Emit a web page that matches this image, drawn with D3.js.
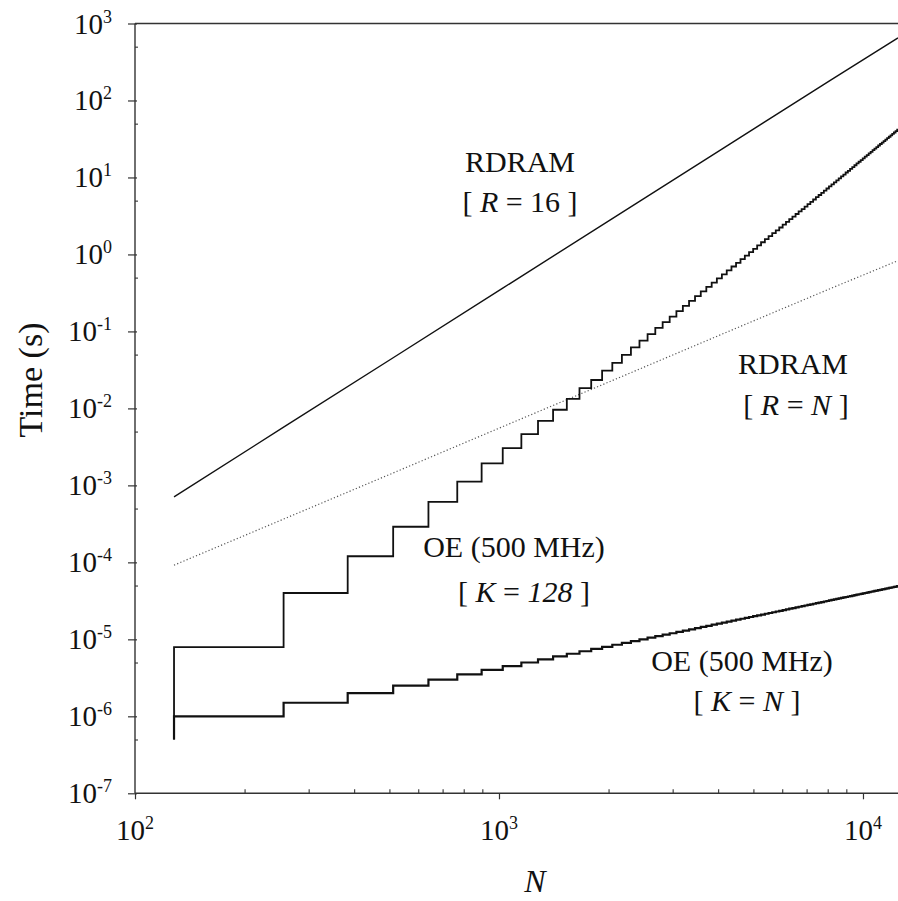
<!DOCTYPE html>
<html>
<head>
<meta charset="utf-8">
<script src="https://cdn.jsdelivr.net/npm/d3@7"></script>
<style>
  body { margin: 0; background: #fff; }
  .vis-timing text { font-family: "Liberation Serif", "Times New Roman", serif; fill: #111; }
</style>
</head>
<body>
<div class="vis-timing"></div>
<script>
// RDRAM, R = 16 (straight line, read at a few N)
const rdram16N = [128, 256, 512, 1024, 2048, 4096, 8192, 12480];
const rdram16Time = [7.1e-4, 5.7e-3, 4.55e-2, 0.365, 2.92, 23.3, 187, 650];

// RDRAM, R = N (dotted)
const rdramNN = [128, 256, 512, 1024, 2048, 4096, 8192, 12480];
const rdramNTime = [9.2e-5, 3.65e-4, 1.45e-3, 5.8e-3, 2.3e-2, 9.2e-2, 0.365, 0.83];

// staircases step every 128 in N
const stepWidth = 128;

// OE (500 MHz), K = 128 : value at N = 128, then one level per step (s)
const oeK128Start = 5e-7;
const oeK128Levels = [
    7.9e-6, 4.0e-5, 1.2e-4, 2.9e-4, 6.1e-4, 1.12e-3, 1.93e-3, 3.04e-3, 4.62e-3, 6.9e-3,
    9.6e-3, 1.33e-2, 1.83e-2, 2.34e-2, 3.1e-2, 3.9e-2, 4.95e-2, 6.2e-2, 0.076, 0.0922,
    0.111, 0.132, 0.156, 0.184, 0.215, 0.249, 0.288, 0.331, 0.378, 0.431,
    0.489, 0.552, 0.621, 0.697, 0.779, 0.869, 0.966, 1.07, 1.18, 1.31,
    1.44, 1.58, 1.73, 1.89, 2.06, 2.24, 2.44, 2.65, 2.87, 3.10,
    3.35, 3.62, 3.89, 4.19, 4.50, 4.83, 5.17, 5.54, 5.92, 6.32,
    6.74, 7.19, 7.65, 8.14, 8.65, 9.18, 9.74, 10.3, 10.9, 11.6,
    12.2, 12.9, 13.6, 14.4, 15.2, 16.0, 16.8, 17.7, 18.6, 19.5,
    20.5, 21.5, 22.6, 23.7, 24.8, 26.0, 27.2, 28.4, 29.7, 31.0,
    32.4, 33.8, 35.3, 36.8, 38.4, 40.0, 41.7
];

// OE (500 MHz), K = N : value at N = 128, then one level per step (microseconds)
const oeKNStartUs = 0.5;
const oeKNLevelsUs = [
    1, 1.5, 2, 2.5, 3, 3.5, 4, 4.5, 5, 5.5, 6, 6.5, 7, 7.5, 8, 8.5, 9, 9.5, 10, 10.5,
    11, 11.5, 12, 12.5, 13, 13.5, 14, 14.5, 15, 15.5, 16, 16.5, 17, 17.5, 18, 18.5, 19, 19.5, 20, 20.5,
    21, 21.5, 22, 22.5, 23, 23.5, 24, 24.5, 25, 25.5, 26, 26.5, 27, 27.5, 28, 28.5, 29, 29.5, 30, 30.5,
    31, 31.5, 32, 32.5, 33, 33.5, 34, 34.5, 35, 35.5, 36, 36.5, 37, 37.5, 38, 38.5, 39, 39.5, 40, 40.5,
    41, 41.5, 42, 42.5, 43, 43.5, 44, 44.5, 45, 45.5, 46, 46.5, 47, 47.5, 48, 48.5, 49
];

// axis ticks
const xMajorTicks = [1e2, 1e3, 1e4];
const xMinorTicks = [200, 300, 400, 500, 600, 700, 800, 900, 2000, 3000, 4000, 5000, 6000, 7000, 8000, 9000];
const yExponents = [3, 2, 1, 0, -1, -2, -3, -4, -5, -6, -7];
const yMinorTicks = [5e2, 5e1, 5, 0.5, 5e-2, 5e-3, 5e-4, 5e-5, 5e-6, 5e-7];

const draw = () => {
    const width = 898;
    const height = 901;
    const margin = { top: 23.5, right: 0, bottom: 107.7, left: 135 };
    const innerWidth = width - margin.left - margin.right;
    const innerHeight = height - margin.top - margin.bottom;

    const svg = d3.select('.vis-timing').append('svg')
        .attr('width', width).attr('height', height);

    const xScale = d3.scaleLog().domain([100, 12480]).range([0, innerWidth]);
    const yScale = d3.scaleLog().domain([1e-7, 1e3]).range([innerHeight, 0]);

    const g = svg.append('g')
        .attr('transform', `translate(${margin.left},${margin.top})`);

    g.append('clipPath').attr('id', 'plot-clip')
        .append('rect').attr('x', 0).attr('y', -1)
        .attr('width', innerWidth).attr('height', innerHeight + 2);

    // axes
    const axisColor = '#333';

    const yMajorG = g.append('g')
        .call(d3.axisLeft(yScale).tickValues(yExponents.map(e => Math.pow(10, e))).tickSize(7).tickFormat(''));
    yMajorG.selectAll('.tick line').attr('x2', -7).attr('x1', 2).attr('stroke', axisColor).attr('stroke-width', 1.2);
    yMajorG.select('.domain').remove();

    const yMinorG = g.append('g')
        .call(d3.axisLeft(yScale).tickValues(yMinorTicks).tickSize(-3).tickFormat(''));
    yMinorG.selectAll('.tick line').attr('stroke', axisColor).attr('stroke-width', 1.1);
    yMinorG.select('.domain').remove();

    const xMajorG = g.append('g')
        .attr('transform', `translate(0,${innerHeight})`)
        .call(d3.axisBottom(xScale).tickValues(xMajorTicks).tickSize(6).tickFormat(''));
    xMajorG.selectAll('.tick line').attr('stroke', axisColor).attr('stroke-width', 1.2);
    xMajorG.select('.domain').remove();

    const xMinorG = g.append('g')
        .attr('transform', `translate(0,${innerHeight})`)
        .call(d3.axisBottom(xScale).tickValues(xMinorTicks).tickSize(-4).tickFormat(''));
    xMinorG.selectAll('.tick line').attr('stroke', axisColor).attr('stroke-width', 1.1);
    xMinorG.select('.domain').remove();

    // frame lines: left, bottom, top
    g.append('line').attr('x1', 0).attr('x2', 0).attr('y1', 0).attr('y2', innerHeight)
        .attr('stroke', axisColor).attr('stroke-width', 1.4);
    g.append('line').attr('x1', 0).attr('x2', innerWidth).attr('y1', innerHeight).attr('y2', innerHeight)
        .attr('stroke', axisColor).attr('stroke-width', 1.4);
    g.append('line').attr('x1', 0).attr('x2', innerWidth).attr('y1', 0).attr('y2', 0)
        .attr('stroke', axisColor).attr('stroke-width', 1.4);

    // tick labels (10 with superscript exponent)
    yExponents.forEach(e => {
        const t = g.append('text')
            .attr('x', -23)
            .attr('y', yScale(Math.pow(10, e)) + 10)
            .attr('text-anchor', 'end')
            .style('font-size', '29px');
        t.append('tspan').text('10');
        t.append('tspan').attr('dy', -11).style('font-size', '18px').text(e);
    });

    xMajorTicks.forEach(v => {
        const t = g.append('text')
            .attr('x', xScale(v))
            .attr('y', innerHeight + 47)
            .attr('text-anchor', 'middle')
            .style('font-size', '29px');
        t.append('tspan').text('10');
        t.append('tspan').attr('dy', -11).style('font-size', '18px').text(Math.round(Math.log10(v)));
    });

    // axis titles
    svg.append('text')
        .attr('transform', `translate(42,380) rotate(-90)`)
        .attr('text-anchor', 'middle')
        .style('font-size', '34px')
        .text('Time (s)');

    svg.append('text')
        .attr('x', 535).attr('y', 892)
        .attr('text-anchor', 'middle')
        .style('font-size', '32px')
        .style('font-style', 'italic')
        .text('N');

    // series
    const plot = g.append('g').attr('clip-path', 'url(#plot-clip)');

    const line = d3.line()
        .x(d => xScale(d.n))
        .y(d => yScale(d.t));

    const stepLine = d3.line()
        .x(d => xScale(d.n))
        .y(d => yScale(d.t))
        .curve(d3.curveStepAfter);

    const stepPoints = (start, levels) => {
        const pts = [{ n: stepWidth, t: start }];
        levels.forEach((t, i) => pts.push({ n: stepWidth * (i + 1), t }));
        pts.push({ n: stepWidth * (levels.length + 1), t: levels[levels.length - 1] });
        return pts;
    };

    plot.append('path')
        .datum(rdramNN.map((n, i) => ({ n, t: rdramNTime[i] })))
        .attr('d', line)
        .attr('fill', 'none')
        .attr('stroke', '#555')
        .attr('stroke-width', 1.2)
        .attr('stroke-dasharray', '1.2,2.2');

    plot.append('path')
        .datum(rdram16N.map((n, i) => ({ n, t: rdram16Time[i] })))
        .attr('d', line)
        .attr('fill', 'none')
        .attr('stroke', '#111')
        .attr('stroke-width', 1.4);

    plot.append('path')
        .datum(stepPoints(oeKNStartUs * 1e-6, oeKNLevelsUs.map(v => v * 1e-6)))
        .attr('d', stepLine)
        .attr('fill', 'none')
        .attr('stroke', '#111')
        .attr('stroke-width', 2.2);

    plot.append('path')
        .datum(stepPoints(oeK128Start, oeK128Levels))
        .attr('d', stepLine)
        .attr('fill', 'none')
        .attr('stroke', '#111')
        .attr('stroke-width', 1.8);

    // curve labels
    const label = (cx, y, parts) => {
        const t = svg.append('text')
            .attr('x', cx).attr('y', y)
            .attr('text-anchor', 'middle')
            .style('font-size', '30px');
        parts.forEach(p => {
            t.append('tspan')
                .style('font-style', p.italic ? 'italic' : 'normal')
                .text(p.text);
        });
    };

    label(520, 172, [{ text: 'RDRAM' }]);
    label(520, 212, [{ text: '[ ' }, { text: 'R', italic: true }, { text: ' = 16 ]' }]);
    label(793, 374, [{ text: 'RDRAM' }]);
    label(796, 415, [{ text: '[ ' }, { text: 'R', italic: true }, { text: ' = ' }, { text: 'N', italic: true }, { text: ' ]' }]);
    label(514, 557, [{ text: 'OE (500 MHz)' }]);
    label(524, 602, [{ text: '[ ' }, { text: 'K', italic: true }, { text: ' = ' }, { text: '128', italic: true }, { text: ' ]' }]);
    label(742, 671, [{ text: 'OE (500 MHz)' }]);
    label(747, 711, [{ text: '[ ' }, { text: 'K', italic: true }, { text: ' = ' }, { text: 'N', italic: true }, { text: ' ]' }]);
};

draw();
</script>
</body>
</html>
